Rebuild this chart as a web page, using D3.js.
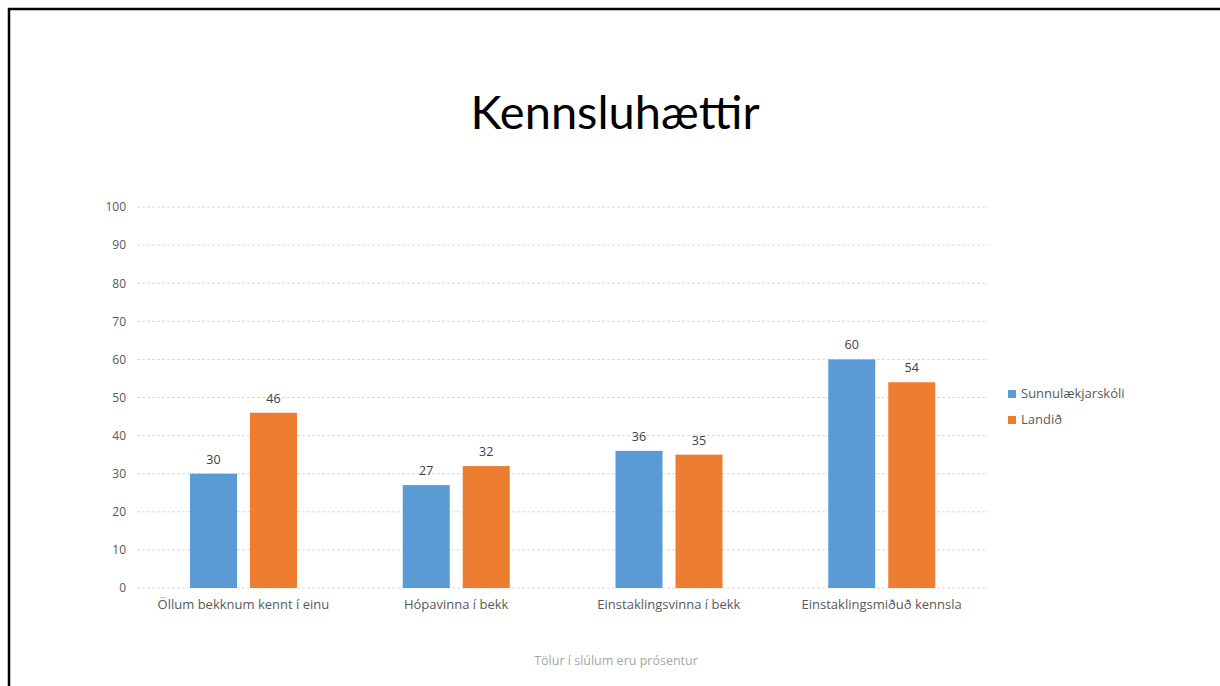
<!DOCTYPE html>
<html><head><meta charset="utf-8">
<script src="https://cdn.jsdelivr.net/npm/d3@7"></script>
<style>html,body{margin:0;padding:0;background:#fff;}svg{display:block;}</style>
</head><body>
<svg id="c" width="1220" height="686"></svg>
<script>
const categories = ["Öllum bekknum kennt í einu", "Hópavinna í bekk", "Einstaklingsvinna í bekk", "Einstaklingsmiðuð kennsla"];
const seriesNames = ["Sunnulækjarskóli", "Landið"];
const sunnulaekjarskoli = [30, 27, 36, 60];
const landid = [46, 32, 35, 54];
const yTicks = [0, 10, 20, 30, 40, 50, 60, 70, 80, 90, 100];
const colors = ["#5b9bd5", "#ed7d31"];
const title = "Kennsluhættir";
const footnote = "Tölur í slúlum eru prósentur";

const seriesValues = [sunnulaekjarskoli, landid];
const TFONT = "Lato, 'Open Sans', sans-serif";
const FONT = "'Open Sans', Lato, sans-serif";
const svg = d3.select("#c");

// border
svg.append("path").attr("d", "M9,686 V9 H1220").attr("fill", "none").attr("stroke", "#000").attr("stroke-width", 2.5);

svg.append("text").attr("x", 615).attr("y", 129).attr("text-anchor", "middle")
  .attr("font-family", TFONT).attr("font-size", 47).attr("fill", "#000").text(title);

const x0 = d3.scaleBand().domain(categories).range([137, 988]).padding(0);
const x1 = d3.scaleBand().domain(seriesNames).range([53, 160]).paddingInner(0.2167).paddingOuter(0);
const y = d3.scaleLinear().domain([0, 100]).range([588, 207]);

const grid = svg.append("g");
grid.selectAll("line").data(yTicks).join("line")
  .attr("x1", 137).attr("x2", 988).attr("y1", d => y(d)).attr("y2", d => y(d))
  .attr("stroke", "#d9d9d9").attr("stroke-width", 1).attr("stroke-dasharray", "3,2");

const yAxis = d3.axisLeft(y).tickValues(yTicks).tickSize(0).tickPadding(11);
const ya = svg.append("g").attr("transform", "translate(137,0)").call(yAxis);
ya.select(".domain").remove();
ya.selectAll("text").attr("font-family", FONT).attr("font-size", 12).attr("fill", "#595959");

const xAxis = d3.axisBottom(x0).tickSize(0).tickPadding(12);
const xa = svg.append("g").attr("transform", "translate(0,588)").call(xAxis);
xa.select(".domain").remove();
xa.selectAll("text").attr("font-family", FONT).attr("font-size", 13).attr("fill", "#595959");

seriesNames.forEach((s, si) => {
  const g = svg.append("g");
  const data = categories.map((c, i) => ({c, v: seriesValues[si][i]}));
  g.selectAll("rect").data(data).join("rect")
    .attr("x", d => x0(d.c) + x1(s)).attr("width", x1.bandwidth())
    .attr("y", d => y(d.v)).attr("height", d => y(0) - y(d.v))
    .attr("fill", colors[si]);
  g.selectAll("text").data(data).join("text")
    .attr("x", d => x0(d.c) + x1(s) + x1.bandwidth() / 2)
    .attr("y", d => y(d.v) - 10).attr("text-anchor", "middle")
    .attr("font-family", FONT).attr("font-size", 12.5).attr("fill", "#404040")
    .text(d => d.v);
});

const lg = svg.append("g");
seriesNames.forEach((s, i) => {
  const yy = 394 + i * 26;
  lg.append("rect").attr("x", 1008).attr("y", yy - 4).attr("width", 8).attr("height", 8).attr("fill", colors[i]);
  lg.append("text").attr("x", 1021).attr("y", yy + 4).attr("font-family", FONT).attr("font-size", 13)
    .attr("fill", "#595959").text(s);
});

svg.append("text").attr("x", 616).attr("y", 665).attr("text-anchor", "middle")
  .attr("font-family", FONT).attr("font-size", 12.5).attr("fill", "#a6a6a6").text(footnote);
</script>
</body></html>
